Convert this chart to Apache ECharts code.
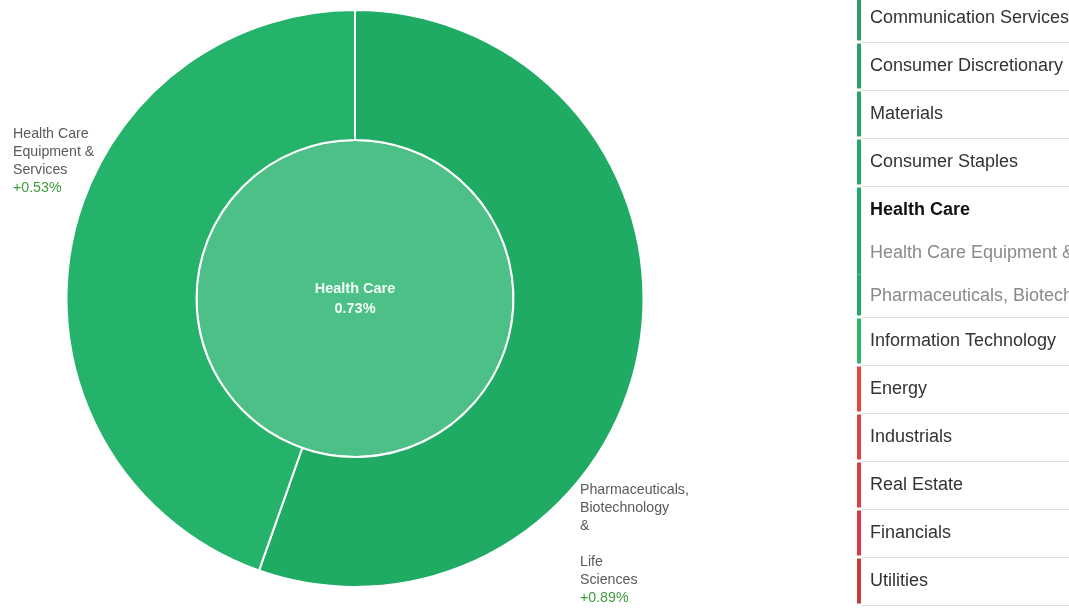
<!DOCTYPE html>
<html>
<head>
<meta charset="utf-8">
<script src="https://cdn.jsdelivr.net/npm/echarts@6/dist/echarts.min.js"></script>
<style>
html,body{margin:0;padding:0;background:#fff;overflow:hidden;}
#chart{width:1069px;height:608px;}
</style>
</head>
<body>
<div id="chart"></div>
<script>
// ---- data ----
var sectorName = 'Health Care';
var sectorChange = 0.73;
var subIndustries = ['Pharmaceuticals, Biotechnology & Life Sciences', 'Health Care Equipment & Services'];
var subLabels = ['Pharmaceuticals,\nBiotechnology\n&\n\nLife\nSciences', 'Health Care\nEquipment &\nServices'];
var subWeights = [55.4, 44.6];
var subChanges = [0.89, 0.53];

var listNames = ['Communication Services', 'Consumer Discretionary', 'Materials', 'Consumer Staples',
  'Health Care', 'Health Care Equipment & Services', 'Pharmaceuticals, Biotechnology & Life Sciences',
  'Information Technology', 'Energy', 'Industrials', 'Real Estate', 'Financials', 'Utilities'];
var listKinds = ['row', 'row', 'row', 'row', 'header', 'sub', 'sub', 'row', 'row', 'row', 'row', 'row', 'row'];
var listBarColors = ['#2a9c64', '#28a066', '#26a466', '#24a866', '#22ab66', '#22ab66', '#22ab66', '#2fb56e',
  '#e8453e', '#e2413f', '#dc3d48', '#de3646', '#c43f36'];

// ---- layout of the sector list ----
var listX = 857, textX = 870, rowH = {row: 48, header: 46, sub: 42.5};
var graphics = [];
var rowY = -6;
for (var i = 0; i < listNames.length; i++) {
  var kind = listKinds[i];
  var h = rowH[kind];
  var sepBelow = !(i + 1 < listNames.length && listKinds[i + 1] === 'sub');
  var sepAbove = (kind !== 'sub') && i > 0;
  var barTop = rowY + (sepAbove ? 1.5 : 0);
  var barBottom = rowY + h - (sepBelow ? 1.5 : 0);
  graphics.push({type: 'rect', shape: {x: listX, y: barTop, width: 4, height: barBottom - barTop},
    style: {fill: listBarColors[i]}, silent: true});
  graphics.push({type: 'text', x: textX, y: rowY + h / 2 + (kind === 'header' ? 1 : 0), silent: true,
    style: {text: listNames[i], fontFamily: 'Liberation Sans, Arial, sans-serif', fontSize: 18,
      fontWeight: kind === 'header' ? 'bold' : 'normal',
      fill: kind === 'header' ? '#111' : (kind === 'sub' ? '#8a8a8a' : '#333'),
      verticalAlign: 'middle', align: 'left'}});
  if (sepBelow) {
    graphics.push({type: 'line', silent: true, shape: {x1: 862, y1: rowY + h + 0.5, x2: 1069, y2: rowY + h + 0.5},
      style: {stroke: '#dcdcdc', lineWidth: 1}});
  }
  rowY += h;
}

var labelPos = [{x: 580, y: 481}, {x: 13, y: 125}];

var chart = echarts.init(document.getElementById('chart'));
chart.setOption({
  animation: false,
  backgroundColor: '#fff',
  graphic: graphics,
  series: [
    {
      type: 'pie',
      center: [355, 298.5],
      radius: [0, 158.5],
      silent: true,
      itemStyle: {color: '#4cc087', borderColor: '#fff', borderWidth: 2},
      label: {
        show: true, position: 'center',
        formatter: function (p) { return p.name + '\n' + p.value.toFixed(2) + '%'; },
        color: '#f2fff6', fontSize: 14.5, fontWeight: 'bold', lineHeight: 20,
        fontFamily: 'Liberation Sans, Arial, sans-serif'
      },
      labelLine: {show: false},
      data: [{name: sectorName, value: sectorChange}]
    },
    {
      type: 'pie',
      center: [355, 298.5],
      radius: [158.5, 288.5],
      startAngle: 90,
      clockwise: true,
      silent: true,
      itemStyle: {borderColor: '#fff', borderWidth: 2},
      label: {
        show: true, position: 'inside', overflow: 'none',
        formatter: function (p) {
          var c = subChanges[p.dataIndex];
          return '{n|' + subLabels[p.dataIndex].split('\n').join('}\n{n|') + '}\n{v|' + (c >= 0 ? '+' : '') + c.toFixed(2) + '%}';
        },
        lineHeight: 18,
        rich: {
          n: {color: '#5a5a5a', fontSize: 14.2, lineHeight: 18, fontFamily: 'Liberation Sans, Arial, sans-serif'},
          v: {color: '#3d9d3d', fontSize: 14.2, lineHeight: 18, fontFamily: 'Liberation Sans, Arial, sans-serif'}
        }
      },
      labelLine: {show: false},
      labelLayout: function (p) {
        var pos = labelPos[p.dataIndex];
        return {x: pos.x, y: pos.y, align: 'left', verticalAlign: 'top', rotate: 0};
      },
      data: subIndustries.map(function (n, i) {
        return {name: n, value: subWeights[i], itemStyle: {color: i === 0 ? '#20ab64' : '#25b36b'}};
      })
    }
  ]
});
</script>
</body>
</html>
